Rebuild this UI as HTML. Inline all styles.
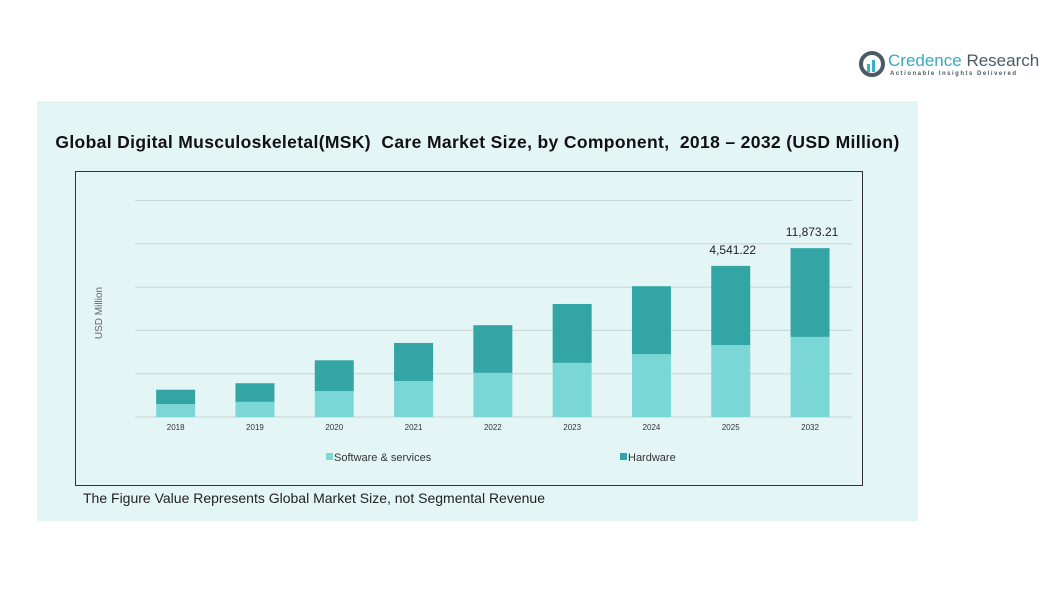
<!DOCTYPE html>
<html><head><meta charset="utf-8"><style>
body{margin:0;width:1061px;height:607px;background:#fff;font-family:"Liberation Sans",sans-serif;position:relative;overflow:hidden}
.abs{position:absolute}
</style></head><body>
<div class="abs" style="left:858px;top:50px;width:190px;height:40px">
<svg width="30" height="30" style="position:absolute;left:0;top:0"><circle cx="14" cy="14" r="11" fill="none" stroke="#4a5a66" stroke-width="4"/><rect x="9" y="14" width="3" height="8" fill="#3ab0c8"/><rect x="14" y="10" width="3" height="12" fill="#3ab0c8"/></svg>
<div class="abs" style="left:30px;top:1px;font-size:17px;color:#3aa8c0;white-space:nowrap">Credence <span style="color:#4a5a66">Research</span></div>
<div class="abs" style="left:32px;top:21px;font-size:6px;letter-spacing:1.5px;color:#4a5a66;white-space:nowrap;font-weight:bold">Actionable Insights Delivered</div>
</div>
<div class="abs" style="left:37px;top:101px;width:881px;height:420px;background:#e4f5f6"></div>
<div class="abs" style="left:37px;top:132px;width:881px;text-align:center;font-size:17.5px;letter-spacing:0.35px;font-weight:bold;color:#111;white-space:nowrap">Global Digital Musculoskeletal(MSK)&nbsp; Care Market Size, by Component,&nbsp; 2018 – 2032 (USD Million)</div>
<div class="abs" style="left:75px;top:171px;width:788px;height:315px;border:1px solid #333;box-sizing:border-box"></div>
<div class="abs" style="left:83px;top:490px;font-size:14px;color:#222">The Figure Value Represents Global Market Size, not Segmental Revenue</div>
<svg id="c" class="abs" style="left:0;top:0" width="1061" height="607"></svg>
<script>
const years=["2018","2019","2020","2021","2022","2023","2024","2025","2032"];
const software=[0.30,0.35,0.60,0.83,1.02,1.25,1.45,1.66,1.85];
const hardware=[0.33,0.43,0.71,0.88,1.10,1.36,1.57,1.83,2.05];
const totalLabels=["","","","","","","","4,541.22","11,873.21"];
const gridTicks=[0,1,2,3,4,5];
const svg=document.getElementById('c');const NS='http://www.w3.org/2000/svg';
const x0=136,band=79.3,bw=39,y0=417,unit=43.3;
const y=v=>y0-v*unit;const xc=i=>x0+band*(i+0.5);
function el(t,a,txt){const e=document.createElementNS(NS,t);for(const k in a)e.setAttribute(k,a[k]);if(txt!=null)e.textContent=txt;svg.appendChild(e);return e;}
gridTicks.forEach(g=>{const l=el('line',{x1:135,x2:852,y1:y(g),y2:y(g),stroke:'#c8d4d6','stroke-width':1});

});
const yt=el('text',{x:102,y:313,'font-size':10,fill:'#666','text-anchor':'middle',transform:'rotate(-90 102 313)','font-family':'Liberation Sans'},'USD Million');


years.forEach((yr,i)=>{
const s=el('rect',{x:xc(i)-bw/2,y:y(software[i]),width:bw,height:software[i]*unit,fill:'#7ad7d6'});


const h=el('rect',{x:xc(i)-bw/2,y:y(software[i]+hardware[i]),width:bw,height:hardware[i]*unit,fill:'#33a5a5'});


const t=el('text',{x:xc(i),y:430,'font-size':8,fill:'#333','text-anchor':'middle','font-family':'Liberation Sans'},yr);


if(totalLabels[i]){const v=el('text',{x:xc(i)+2,y:y(software[i]+hardware[i])-12,'font-size':12,fill:'#222','text-anchor':'middle','font-family':'Liberation Sans'},totalLabels[i]);

}
});
const l1=el('rect',{x:326,y:453,width:7,height:7,fill:'#7ad7d6'});


const lt1=el('text',{x:334,y:461,'font-size':11,fill:'#333','font-family':'Liberation Sans'},'Software & services');


const l2=el('rect',{x:620,y:453,width:7,height:7,fill:'#33a5a5'});


const lt2=el('text',{x:628,y:461,'font-size':11,fill:'#333','font-family':'Liberation Sans'},'Hardware');


</script>
</body></html>
